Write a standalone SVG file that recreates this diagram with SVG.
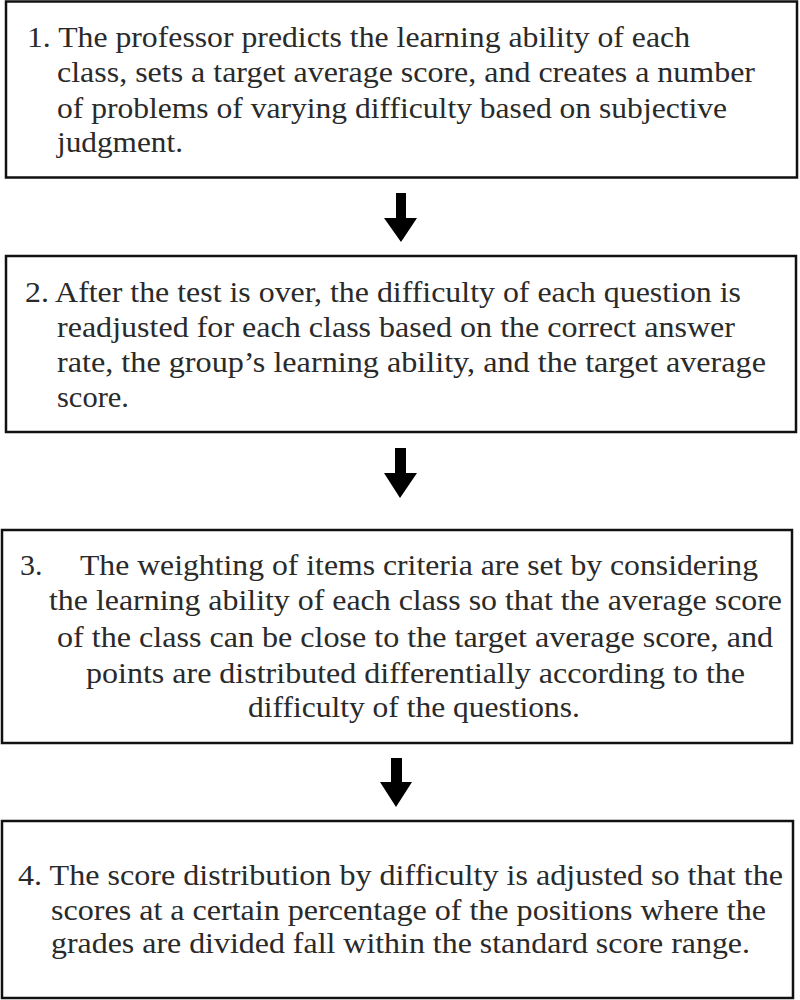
<svg xmlns="http://www.w3.org/2000/svg" width="800" height="1000" viewBox="0 0 800 1000">
<style>
.box{fill:#fff;stroke:#111;stroke-width:2.5}
.t{font-family:'Liberation Serif','Times New Roman',Times,serif;font-size:30px;fill:#2a2a2a}
.arr{fill:#000}
</style>
<rect width="800" height="1000" fill="#fff"/>
<g id="node1">
<rect class="box" x="6" y="1.5" width="791" height="176"/>
<text class="t" x="27" y="47" textLength="663" lengthAdjust="spacingAndGlyphs">1. The professor predicts the learning ability of each</text>
<text class="t" x="57" y="82" textLength="698" lengthAdjust="spacingAndGlyphs">class, sets a target average score, and creates a number</text>
<text class="t" x="57" y="118" textLength="670" lengthAdjust="spacingAndGlyphs">of problems of varying difficulty based on subjective</text>
<text class="t" x="57" y="152" textLength="126" lengthAdjust="spacingAndGlyphs">judgment.</text>
</g>
<g id="node2">
<rect class="box" x="6" y="256" width="790" height="176"/>
<text class="t" x="25" y="302" textLength="716" lengthAdjust="spacingAndGlyphs">2. After the test is over, the difficulty of each question is</text>
<text class="t" x="57" y="337" textLength="678" lengthAdjust="spacingAndGlyphs">readjusted for each class based on the correct answer</text>
<text class="t" x="57" y="372" textLength="709" lengthAdjust="spacingAndGlyphs">rate, the group’s learning ability, and the target average</text>
<text class="t" x="57" y="407" textLength="72" lengthAdjust="spacingAndGlyphs">score.</text>
</g>
<g id="node3">
<rect class="box" x="2" y="530" width="790" height="213"/>
<text class="t" x="20" y="575">3.</text>
<text class="t" x="80" y="575" textLength="678" lengthAdjust="spacingAndGlyphs">The weighting of items criteria are set by considering</text>
<text class="t" x="49" y="610" textLength="733" lengthAdjust="spacingAndGlyphs">the learning ability of each class so that the average score</text>
<text class="t" x="57" y="647" textLength="716" lengthAdjust="spacingAndGlyphs">of the class can be close to the target average score, and</text>
<text class="t" x="86" y="683" textLength="659" lengthAdjust="spacingAndGlyphs">points are distributed differentially according to the</text>
<text class="t" x="248" y="717" textLength="332" lengthAdjust="spacingAndGlyphs">difficulty of the questions.</text>
</g>
<g id="node4">
<rect class="box" x="2" y="821" width="791" height="177"/>
<text class="t" x="18" y="885" textLength="765" lengthAdjust="spacingAndGlyphs">4. The score distribution by difficulty is adjusted so that the</text>
<text class="t" x="51" y="920" textLength="715" lengthAdjust="spacingAndGlyphs">scores at a certain percentage of the positions where the</text>
<text class="t" x="51" y="953" textLength="699" lengthAdjust="spacingAndGlyphs">grades are divided fall within the standard score range.</text>
</g>
<g id="connectors">
<polygon class="arr" points="396,193 406,193 406,218 417,218 401,242 384,218 396,218"/>
<polygon class="arr" points="395,448 406,448 406,473 417,473 400,498 384,473 395,473"/>
<polygon class="arr" points="391,758 402,758 402,782 412,782 396,807 380,782 391,782"/>
</g>
</svg>
